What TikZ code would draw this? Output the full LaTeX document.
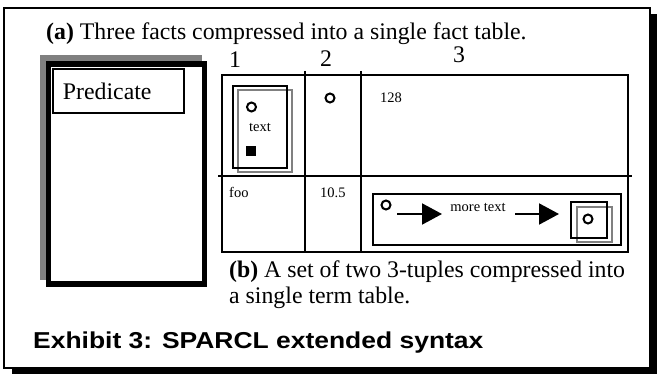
\documentclass[tikz,border=0pt]{standalone}
\usepackage{fontspec}
\setmainfont{Liberation Serif}
\newfontfamily\exhibitfont[FakeStretch=1.15]{Liberation Sans}
\usepackage{xcolor}
\usetikzlibrary{positioning}
\usetikzlibrary{arrows.meta}
\tikzset{>=stealth}
\definecolor{greyline}{gray}{0.5}
\tikzset{
  captext/.style={anchor=base west,inner sep=0pt,font=\fontsize{23.8}{26}\selectfont},
  small/.style={anchor=base west,inner sep=0pt,font=\fontsize{14.5}{17}\selectfont},
  ring/.style={circle,draw,line width=2pt,minimum size=9pt,inner sep=0pt},
  cell/.style={line width=2pt},
  bigarrow/.style={line width=2pt,-{Triangle[length=20pt,width=21pt]}}
}

\begin{document}
\begin{tikzpicture}[x=1pt,y=-1pt]
        \useasboundingbox (0,0) rectangle (657,374);
        % frame and its shadow
        \fill (12,14) rectangle (657,374);
        \draw [fill=white,line width=2pt] (4,8) rectangle (650,368);
        \node [captext] (capA) at (46,40) {\textbf{(a)} Three facts compressed into a single fact table.};

        % predicate box
        \fill [greyline] (40,55) rectangle (202,280);
        \draw [fill=white,line width=5.5pt] (48.5,64) rectangle (204.5,284);
        \node [captext,draw,anchor=north west,line width=2pt,minimum height=44pt,text width=111pt,inner xsep=10pt,align=left] (pred) at (52,68) {Predicate};

        % fact table
        \draw [cell] (222,75) rectangle (628,252);
        \draw [cell] (218,176) -- (632,176);
        \draw [cell] (305,71) -- (305,252);
        \draw [cell] (361,71) -- (361,252);
        \node [captext,anchor=base] (col1) at (235,68) {1};
        \node [captext,anchor=base] (col2) at (326,67) {2};
        \node [captext,anchor=base] (col3) at (459,63) {3};

        \draw [greyline,line width=2pt] (238,90) rectangle (292,172);
        \draw [line width=2pt] (233,86) rectangle (287,168);
        \node [ring] (r1) at (251.5,107) {};
        \node [small,anchor=base] (txt) at (260,132) {text};
        \node [fill,minimum size=10pt,inner sep=0pt] (sq) at (251,151) {};
        \node [ring] (r2) at (330,98) {};
        \node [small] (n128) at (380,103) {128};
        \node [small] (foo) at (229,198) {foo};
        \node [small] (n105) at (320,198) {10.5};

        % term table
        \draw [line width=2pt] (373,194) rectangle (621,245);
        \node [ring] (r3) at (386,205) {};
        \node [small,anchor=base] (more) at (478,212) {more text};
        \coordinate (a1s) at (397,214);
        \coordinate (a1e) at (442,214);
        \coordinate (a2s) at (515,214);
        \coordinate (a2e) at (559,214);
        \draw [bigarrow] (a1s) -- (a1e);
        \draw [bigarrow] (a2s) -- (a2e);
        \draw [greyline,line width=2pt] (577,207) rectangle (612,242);
        \draw [line width=2pt] (571,202) rectangle (607,238);
        \node [ring] (r4) at (588,219) {};

        \node [captext] (capB1) at (229,278) {\textbf{(b)} A set of two 3-tuples compressed into};
        \node [captext] (capB2) at (229,304) {a single term table.};
        \node [anchor=base west,inner sep=0pt,font=\exhibitfont\bfseries\fontsize{23}{26}\selectfont] (exh) at (33,349) {Exhibit 3: SPARCL extended syntax};
\end{tikzpicture}
\end{document}
